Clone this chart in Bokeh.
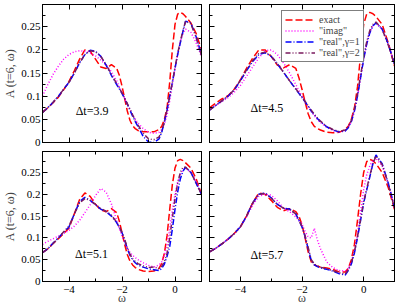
from bokeh.plotting import figure
from bokeh.models import (LinearAxis, SingleIntervalTicker, Range1d, Legend, LegendItem,
                          CustomJSTickFormatter, Label, CustomLabelingPolicy)
from bokeh.layouts import column, row
from bokeh.embed import file_html
from bokeh.resources import INLINE

# ---------------- data ----------------
omega = [-5.0, -4.8, -4.6, -4.4, -4.2, -4.0, -3.8, -3.6, -3.4, -3.2, -3.0, -2.8, -2.6, -2.4, -2.2,
         -2.1, -2.0, -1.9, -1.8, -1.7, -1.6, -1.5, -1.4, -1.2, -1.0, -0.8, -0.6,
         -0.5, -0.4, -0.3, -0.2, -0.1, 0.0, 0.1, 0.2, 0.3, 0.4, 0.6, 0.8, 1.0]

exact_39 = [0.065,0.075,0.086,0.098,0.114,0.132,0.155,0.180,0.200,0.197,0.180,0.163,0.160,0.168,0.160,
            0.145,0.122,0.095,0.068,0.048,0.036,0.030,0.026,0.023,0.023,0.023,0.028,
            0.035,0.050,0.075,0.130,0.200,0.255,0.277,0.281,0.278,0.272,0.258,0.235,0.200]
imag_39 = [0.100,0.125,0.147,0.165,0.180,0.190,0.196,0.198,0.197,0.193,0.187,0.178,0.167,0.153,0.133,
           0.120,0.107,0.095,0.083,0.071,0.060,0.050,0.042,0.030,0.022,0.020,0.022,
           0.028,0.040,0.060,0.090,0.125,0.160,0.190,0.218,0.235,0.245,0.238,0.215,0.185]
real1_39 = [0.065,0.075,0.087,0.100,0.115,0.130,0.150,0.172,0.190,0.199,0.197,0.186,0.167,0.145,0.125,
            0.116,0.106,0.095,0.083,0.070,0.057,0.045,0.035,0.013,0.001,0.000,0.008,
            0.022,0.045,0.070,0.100,0.130,0.160,0.190,0.215,0.240,0.262,0.258,0.228,0.190]
real2_39 = [0.065,0.075,0.087,0.100,0.115,0.130,0.150,0.172,0.190,0.198,0.196,0.186,0.168,0.147,0.127,
            0.117,0.107,0.096,0.084,0.072,0.060,0.048,0.038,0.020,0.008,0.006,0.012,
            0.025,0.045,0.070,0.100,0.130,0.162,0.192,0.218,0.242,0.262,0.256,0.226,0.188]

exact_45 = [0.075,0.085,0.094,0.101,0.115,0.135,0.160,0.182,0.200,0.200,0.186,0.167,0.161,0.168,0.160,
            0.140,0.115,0.088,0.062,0.045,0.035,0.030,0.027,0.022,0.021,0.022,0.028,
            0.035,0.050,0.075,0.120,0.190,0.255,0.278,0.281,0.278,0.272,0.255,0.215,0.165]
imag_45 = [0.072,0.080,0.088,0.097,0.108,0.123,0.143,0.163,0.183,0.198,0.200,0.190,0.172,0.150,0.125,
           0.112,0.100,0.088,0.077,0.067,0.058,0.050,0.043,0.033,0.026,0.022,0.025,
           0.032,0.045,0.068,0.100,0.140,0.180,0.213,0.237,0.252,0.258,0.245,0.210,0.170]
real1_45 = [0.070,0.080,0.090,0.100,0.113,0.133,0.155,0.175,0.190,0.194,0.186,0.170,0.152,0.133,0.115,
            0.106,0.097,0.088,0.078,0.068,0.060,0.052,0.045,0.034,0.027,0.023,0.025,
            0.032,0.045,0.068,0.100,0.140,0.180,0.213,0.237,0.252,0.258,0.245,0.212,0.170]
real2_45 = [0.070,0.080,0.090,0.100,0.114,0.134,0.157,0.177,0.192,0.195,0.187,0.170,0.152,0.133,0.116,
            0.107,0.098,0.089,0.079,0.070,0.061,0.053,0.046,0.035,0.028,0.024,0.027,
            0.034,0.048,0.072,0.105,0.145,0.185,0.218,0.242,0.255,0.260,0.245,0.210,0.168]

exact_51 = [0.066,0.075,0.087,0.098,0.110,0.122,0.155,0.188,0.203,0.195,0.177,0.164,0.160,0.167,0.158,
            0.138,0.112,0.085,0.062,0.047,0.038,0.032,0.028,0.024,0.023,0.024,0.030,
            0.042,0.065,0.105,0.165,0.222,0.260,0.277,0.280,0.277,0.272,0.260,0.235,0.200]
imag_51 = [0.085,0.092,0.098,0.104,0.110,0.117,0.127,0.140,0.158,0.176,0.197,0.213,0.205,0.178,0.140,
           0.120,0.105,0.090,0.077,0.067,0.060,0.055,0.050,0.043,0.037,0.033,0.038,
           0.045,0.060,0.085,0.120,0.165,0.200,0.228,0.245,0.255,0.260,0.250,0.230,0.200]
real1_51 = [0.066,0.075,0.088,0.100,0.113,0.125,0.155,0.183,0.193,0.186,0.176,0.166,0.160,0.150,0.135,
            0.124,0.112,0.095,0.075,0.060,0.050,0.043,0.038,0.033,0.029,0.027,0.025,
            0.030,0.040,0.058,0.080,0.120,0.165,0.205,0.235,0.253,0.262,0.250,0.225,0.200]
real2_51 = [0.066,0.075,0.087,0.100,0.114,0.127,0.155,0.180,0.190,0.186,0.177,0.167,0.161,0.152,0.136,
            0.125,0.112,0.096,0.078,0.063,0.052,0.046,0.041,0.036,0.032,0.033,0.030,
            0.035,0.045,0.065,0.100,0.145,0.190,0.225,0.250,0.262,0.262,0.250,0.225,0.200]

exact_57 = [0.068,0.076,0.086,0.097,0.110,0.125,0.150,0.180,0.203,0.200,0.186,0.170,0.162,0.167,0.160,
            0.150,0.130,0.100,0.068,0.045,0.038,0.035,0.033,0.031,0.028,0.022,0.022,
            0.030,0.050,0.085,0.140,0.200,0.250,0.275,0.280,0.277,0.270,0.250,0.215,0.165]
imag_57 = [0.068,0.076,0.086,0.097,0.110,0.125,0.148,0.175,0.195,0.200,0.198,0.185,0.168,0.160,0.148,
           0.140,0.132,0.115,0.102,0.100,0.122,0.095,0.075,0.045,0.032,0.025,0.024,
           0.030,0.045,0.070,0.110,0.160,0.210,0.245,0.265,0.278,0.282,0.265,0.225,0.170]
real1_57 = [0.068,0.076,0.086,0.097,0.110,0.125,0.150,0.180,0.200,0.203,0.192,0.177,0.168,0.166,0.155,
            0.140,0.125,0.103,0.075,0.048,0.038,0.034,0.031,0.028,0.024,0.018,0.015,
            0.025,0.040,0.065,0.100,0.140,0.180,0.210,0.240,0.270,0.290,0.270,0.225,0.170]
real2_57 = [0.068,0.076,0.086,0.097,0.110,0.125,0.150,0.180,0.200,0.202,0.191,0.177,0.168,0.165,0.155,
            0.141,0.126,0.105,0.078,0.050,0.040,0.036,0.033,0.029,0.025,0.020,0.017,
            0.027,0.043,0.068,0.103,0.143,0.183,0.213,0.243,0.270,0.288,0.268,0.223,0.168]

panel_labels = ["\u0394t=3.9", "\u0394t=4.5", "\u0394t=5.1", "\u0394t=5.7"]
series_names = ["exact", "\"imag\"", "\"real\",\u03b3=1", "\"real\",\u03b3=2"]
y_label = "A (t=6, \u03c9)"
x_label = "\u03c9"

panels = [
    (exact_39, imag_39, real1_39, real2_39),
    (exact_45, imag_45, real1_45, real2_45),
    (exact_51, imag_51, real1_51, real2_51),
    (exact_57, imag_57, real1_57, real2_57),
]

# ---------------- style ----------------
FONT = "Liberation Serif"
styles = [
    dict(line_color="#ff0000", line_dash="7 3", line_width=1.5),
    dict(line_color="#ff00ff", line_dash="1 2", line_width=1.5),
    dict(line_color="#0000ff", line_dash="6 2 1 2", line_width=1.5),
    dict(line_color="#7a1a5e", line_dash="5 2 1 2 1 2", line_width=1.5),
]
label_pos = [(-3.75, 0.067), (-3.67, 0.075), (-3.77, 0.062), (-3.67, 0.061)]

yfmt = CustomJSTickFormatter(code="return String(Number(tick.toFixed(3)));")
no_labels = CustomLabelingPolicy(code="""
const n = indices.size;
for (let i = 0; i < n; i++) { indices.unset(i); }
return indices;
""")


def style_axis(ax, show_labels, label=None):
    ax.axis_line_color = "black"
    ax.major_tick_in = 5
    ax.major_tick_out = 0
    ax.minor_tick_in = 3
    ax.minor_tick_out = 0
    ax.major_tick_line_color = "black"
    ax.minor_tick_line_color = "black"
    if show_labels:
        ax.major_label_text_font = FONT
        ax.major_label_text_font_size = "11px"
        ax.major_label_text_color = "black"
        ax.major_label_standoff = 2
    else:
        ax.major_label_text_font_size = "0px"
        ax.major_label_standoff = 0
        ax.major_label_policy = no_labels
    if label is not None:
        ax.axis_label = label
        ax.axis_label_text_font = FONT
        ax.axis_label_text_font_size = "12px"
        ax.axis_label_text_font_style = "normal"


def make_panel(i):
    left = i % 2 == 0
    bottom = i >= 2
    p = figure(frame_width=159 if left else 185,
               frame_height=130 if bottom else 138,
               x_range=Range1d(-5, 1), y_range=Range1d(0, 0.298),
               x_axis_location=None, y_axis_location=None,
               output_backend="svg", toolbar_location=None,
               min_border_left=42 if left else 4,
               min_border_right=4,
               min_border_top=4,
               min_border_bottom=26 if bottom else 5)
    p.grid.visible = False
    p.outline_line_color = "black"
    p.outline_line_width = 1
    p.background_fill_color = "white"
    p.border_fill_color = "white"

    for loc in ["below", "above"]:
        ax = LinearAxis(ticker=SingleIntervalTicker(interval=2, num_minor_ticks=2))
        show = (loc == "below" and bottom)
        style_axis(ax, show, x_label if show else None)
        if show:
            ax.major_label_standoff = 4
            ax.axis_label_standoff = -5
        p.add_layout(ax, loc)
    for loc in ["left", "right"]:
        ax = LinearAxis(ticker=SingleIntervalTicker(interval=0.05, num_minor_ticks=2),
                        formatter=yfmt)
        show = (loc == "left" and left)
        style_axis(ax, show, y_label if show else None)
        if show:
            ax.axis_label_standoff = 1
        p.add_layout(ax, loc)

    rends = []
    for ys, st in zip(panels[i], styles):
        rends.append(p.line(omega, ys, **st))

    lx, ly = label_pos[i]
    p.add_layout(Label(x=lx, y=ly, text=panel_labels[i], text_font=FONT,
                       text_font_size="12px", text_baseline="middle", text_color="black"))

    if i == 1:
        legend = Legend(items=[LegendItem(label=n, renderers=[r]) for n, r in zip(series_names, rends)],
                        location=(72, 80), orientation="vertical",
                        border_line_color="black", border_line_width=1,
                        background_fill_color="white", background_fill_alpha=1.0,
                        padding=3, spacing=0, margin=0,
                        label_height=11, glyph_height=11, glyph_width=30, label_standoff=4,
                        label_text_font=FONT, label_text_font_size="10px",
                        label_text_baseline="middle")
        p.add_layout(legend, "center")
    return p


figs = [make_panel(i) for i in range(4)]
layout = column(row(figs[0], figs[1]), row(figs[2], figs[3]))

open("out.html", "w").write(file_html(layout, INLINE))
